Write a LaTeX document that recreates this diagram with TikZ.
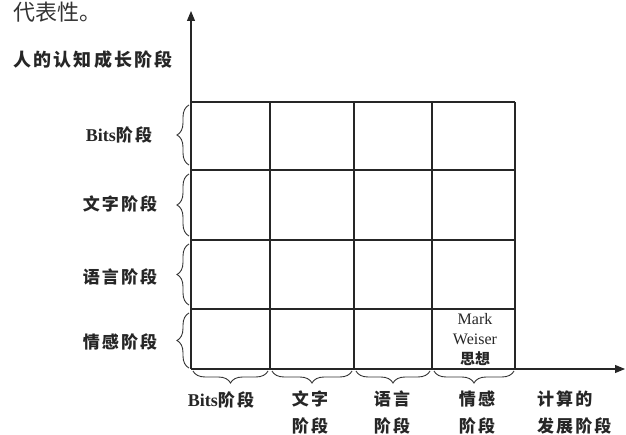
\documentclass[tikz,border=0pt]{standalone}
\usepackage{fontspec}
\setmainfont{Liberation Serif}
\newfontfamily\cjk{Noto Sans CJK SC}[LetterSpace=12]
\newfontfamily\cjkt{Noto Sans CJK SC}[LetterSpace=12]
\newfontfamily\cjkplain{Noto Sans CJK SC}
\usetikzlibrary{decorations.pathreplacing,arrows.meta}
\tikzset{
  gridline/.style={line width=1.1pt, draw=black!85},
  axisline/.style={line width=1.1pt, draw=black!85, -{Triangle[length=10pt,width=8pt]}},
  lbrace/.style={decorate, decoration={brace, amplitude=12pt}, line width=0.9pt, draw=black!80},
  lbl/.style={font=\fontsize{17}{27}\selectfont\bfseries, text=black!85, inner sep=0pt, align=center},
}
\begin{document}
\begin{tikzpicture}[x=1pt,y=-1pt]
\useasboundingbox (0,0) rectangle (626,435);
% axes
\coordinate (O) at (191,369);
\coordinate (ytop) at (191,11);
\coordinate (xend) at (625,369);
\draw[axisline] (O) -- (ytop);
\draw[axisline] (O) -- (xend);
% grid
\foreach \x in {270,354,432,515} \draw[gridline] (\x,102) -- (\x,369);
\foreach \y in {102,170,240,309} \draw[gridline] (191,\y) -- (515,\y);
% left braces
\draw[lbrace] (189,165) -- (189,105);
\draw[lbrace] (189,236) -- (189,174);
\draw[lbrace] (189,305) -- (189,244);
\draw[lbrace] (189,368) -- (189,313);
% bottom braces
\draw[lbrace] (268,371) -- (193,371);
\draw[lbrace] (352,371) -- (272,371);
\draw[lbrace] (430,371) -- (356,371);
\draw[lbrace] (514,371) -- (434,371);
% top partial text
\node[anchor=west, inner sep=0pt, font=\fontsize{22}{24}\selectfont, text=black!80] (intro) at (13,12) {\cjkplain 代表性。};
% y axis title
\node[lbl, font=\fontsize{18}{22}\selectfont\bfseries] (ytitle) at (93,60) {\cjkt 人的认知成长阶段};
% left labels
\node[lbl] (l1) at (119,135) {{\fontsize{18}{22}\selectfont Bits}{\cjk 阶段}};
\node[lbl] (l2) at (120,204) {\cjk 文字阶段};
\node[lbl] (l3) at (120,277) {\cjk 语言阶段};
\node[lbl] (l4) at (120,342) {\cjk 情感阶段};
% bottom labels
\node[lbl] (b1) at (221,400) {{\fontsize{18}{22}\selectfont Bits}{\cjk 阶段}};
\node[lbl, anchor=north] (b2) at (310,391) {\cjk 文字\\\cjk 阶段};
\node[lbl, anchor=north] (b3) at (392,391) {\cjk 语言\\\cjk 阶段};
\node[lbl, anchor=north] (b4) at (477,391) {\cjk 情感\\\cjk 阶段};
\node[lbl, anchor=north west, align=left] (xtitle) at (537,391) {\cjk 计算的\\\cjk 发展阶段};
% cell text
\node[inner sep=0pt, align=center, font=\fontsize{16}{20}\selectfont, text=black!85] (mw) at (475,340) {Mark\\Weiser\\{\cjkplain\bfseries\fontsize{15}{20}\selectfont 思想}};
\end{tikzpicture}
\end{document}
